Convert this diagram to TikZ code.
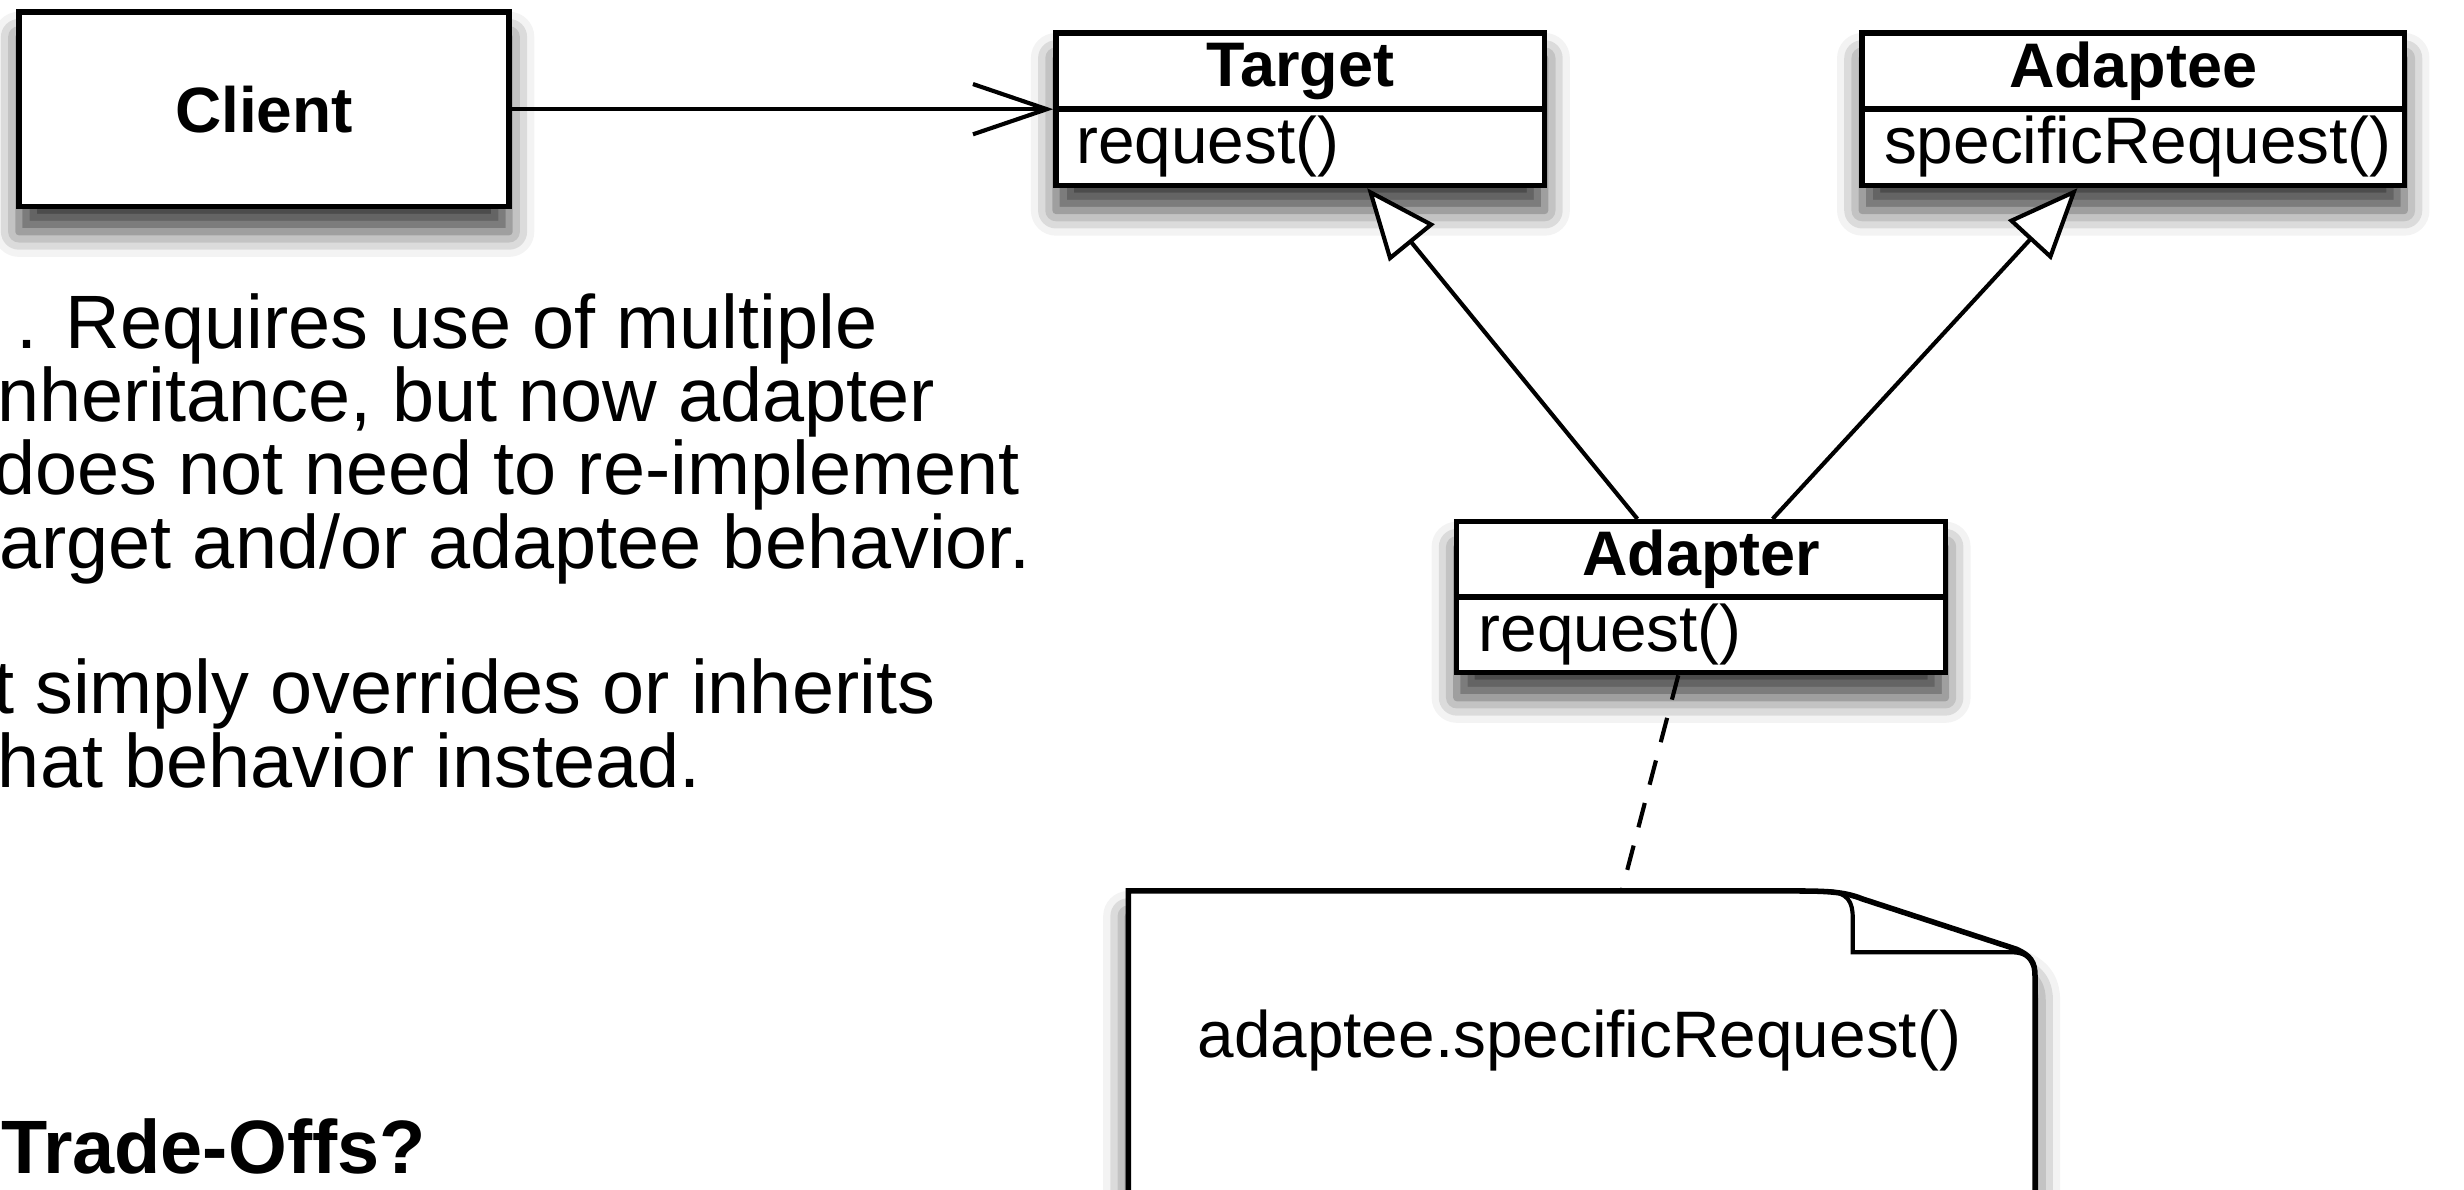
\documentclass[tikz,border=0pt]{standalone}
\usepackage{fontspec}
\setmainfont{Liberation Sans}
\usetikzlibrary{arrows.meta, shadows.blur}

\tikzset{
  umlshadow/.style={blur shadow={shadow xshift=0mm, shadow yshift=-1.6mm,
      shadow blur radius=1.6mm, shadow opacity=75}},
  classbox/.style={draw, line width=1pt, fill=white, inner sep=0pt,
      minimum height=9.7mm, umlshadow},
  classname/.style={font=\fontsize{11.4}{13}\selectfont\bfseries, inner sep=0pt},
  member/.style={font=\fontsize{11.9}{13}\selectfont, inner sep=0pt, anchor=west},
  bodytext/.style={font=\fontsize{13.7}{13.2}\selectfont, inner sep=0pt, anchor=base west},
  assoc/.style={-{Straight Barb[length=4.7mm, width=3.2mm]}, line width=0.75pt},
  inherit/.style={-{Triangle[open, length=4.5mm, width=3.7mm, fill=white]}, line width=0.75pt},
  noteline/.style={line width=0.75pt, dash pattern=on 1.6mm off 1.2mm}
}

\begin{document}
\begin{tikzpicture}[x=1mm, y=1mm]
        \useasboundingbox (0,0) rectangle (156.8,75.7);

        % Text on the left, cut by the edge
        \node[bodytext] (line1) at (1.0,53.5) {. Requires use of multiple};
        \node[bodytext] (line2) at (-0.25,48.85) {nheritance, but now adapter};
        \node[bodytext] (line3) at (-0.5,44.2) {does not need to re-implement};
        \node[bodytext] (line4) at (-0.1,39.55) {arget and/or adaptee behavior.};
        \node[bodytext] (line5) at (-0.5,30.3) {t simply overrides or inherits};
        \node[bodytext] (line6) at (-0.2,25.6) {hat behavior instead.};
        \node[bodytext, font=\fontsize{13.7}{14}\selectfont\bfseries] (tradeoffs) at (0,1.0) {Trade-Offs?};

        % Client
        \node[classbox, minimum width=31.2mm, minimum height=12.4mm,
              font=\fontsize{11.6}{13}\selectfont\bfseries] (client) at (16.8,68.75) {Client};

        % Target class
        \node[classbox, minimum width=31.1mm] (target) at (82.75,68.75) {};
        \draw[line width=1pt] (target.west) -- (target.east);
        \node[classname] (target-name) at ([yshift=2.4mm]target.center) {Target};
        \node[member] (target-op) at ([xshift=1.4mm, yshift=-2.4mm]target.west) {request()};

        % Adaptee class
        \node[classbox, minimum width=34.5mm] (adaptee) at (135.75,68.75) {};
        \draw[line width=1pt] (adaptee.west) -- (adaptee.east);
        \node[classname] (adaptee-name) at ([yshift=2.4mm]adaptee.center) {Adaptee};
        \node[member] (adaptee-op) at ([xshift=1.5mm, yshift=-2.4mm]adaptee.west) {specificRequest()};

        % Adapter class
        \node[classbox, minimum width=31.1mm, minimum height=9.6mm] (adapter) at (108.25,37.7) {};
        \draw[line width=1pt] (adapter.west) -- (adapter.east);
        \node[classname] (adapter-name) at ([yshift=2.4mm]adapter.center) {Adapter};
        \node[member] (adapter-op) at ([xshift=1.5mm, yshift=-2.4mm]adapter.west) {request()};

        % Note with folded corner
        \draw[line width=1pt, fill=white, umlshadow] (71.8,-3) -- (71.8,19.0) -- (114.5,19.0)
            .. controls (116.5,19.0) and (117.5,18.9) .. (118.5,18.5) -- (128.3,15.3)
            .. controls (129.2,14.9) and (129.5,14.5) .. (129.5,13.6) -- (129.5,-3) -- cycle;
        \draw[line width=0.75pt] (116.3,19.0) .. controls (117.6,18.9) and (117.9,18.3) .. (117.9,17.3)
            -- (117.9,15.1) -- (128.0,15.1) .. controls (128.8,15.1) and (129.2,14.8) .. (129.4,14.2);
        \coordinate (notetop) at (103.2,19.0);
        \node[member, anchor=center] (note) at (100.5,9.5) {adaptee.specificRequest()};

        % Connectors
        \draw[assoc] (client.east) -- (target.west);
        \draw[inherit] ([xshift=-4.05mm]adapter.north) -- ([xshift=4.25mm]target.south);
        \draw[inherit] ([xshift=4.55mm]adapter.north) -- ([xshift=-3.55mm]adaptee.south);
        \draw[noteline] ([xshift=-1.45mm]adapter.south) -- (notetop);

\end{tikzpicture}
\end{document}
